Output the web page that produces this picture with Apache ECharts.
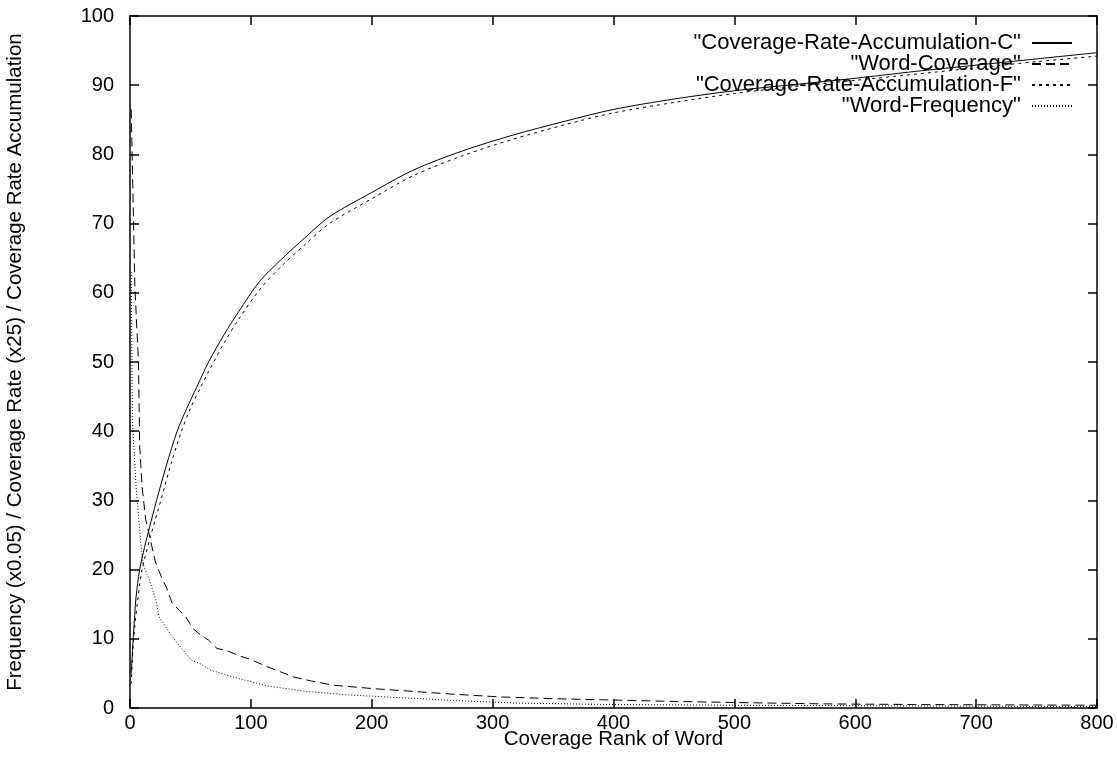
<!DOCTYPE html>
<html>
<head>
<meta charset="utf-8">
<script src="https://cdn.jsdelivr.net/npm/echarts@6/dist/echarts.min.js"></script>
<style>
  html, body { margin: 0; padding: 0; background: #fff; }
  #chart { width: 1117px; height: 762px; }
</style>
</head>
<body>
<div id="chart"></div>
<script>
// 数据：从原图读出
var rankAccC = [1, 3, 5, 8, 12, 16, 22, 30, 39, 47, 55, 65, 78, 90, 107, 125, 145, 165, 200, 234, 275, 317, 360, 400, 450, 500, 550, 600, 650, 700, 750, 800];
var accC = [5, 11, 16, 20, 23.2, 26, 30, 35, 40, 43.3, 46.3, 50, 54, 57.3, 61.6, 64.8, 68, 71, 74.5, 77.7, 80.5, 82.8, 84.8, 86.5, 88, 89.2, 90.1, 91, 92, 92.9, 93.8, 94.7];

var rankAccF = [1, 3, 6, 10, 17, 26, 34, 42, 50, 58, 65, 78, 90, 107, 125, 145, 165, 200, 234, 275, 317, 360, 400, 450, 500, 550, 600, 650, 700, 750, 800];
var accF = [3.5, 10, 15, 20, 24.8, 30.3, 35.3, 39.7, 43.3, 46.2, 48.6, 52.8, 56.2, 60.4, 63.8, 67, 70, 73.6, 76.9, 79.8, 82.2, 84.3, 86, 87.5, 88.8, 89.8, 90.7, 91.6, 92.5, 93.4, 94.2];

var rankCov = [1, 4, 7, 8, 10, 13, 16, 21, 27, 30, 35, 41, 46, 52, 58, 65, 72, 80, 91, 100, 113, 125, 135, 150, 168, 201, 234, 267, 306, 350, 400, 450, 499, 571, 650, 720, 800];
var wordCov = [86.5, 61, 50, 38, 32, 27.2, 25, 21.1, 18.5, 17.5, 15.1, 14.1, 13.2, 11.5, 10.6, 9.8, 8.6, 8.3, 7.5, 7, 6, 5.2, 4.5, 3.9, 3.3, 2.8, 2.4, 2, 1.6, 1.35, 1.15, 0.95, 0.8, 0.6, 0.5, 0.45, 0.4];

var rankFreq = [1, 2, 5, 8, 10.5, 16, 21.5, 24, 35, 46, 51, 58, 66, 85, 113, 146, 179, 223, 278, 322, 400, 499, 571, 650, 800];
var wordFreq = [63, 41.6, 32, 25.7, 20.9, 18.5, 15.6, 13.2, 10.3, 7.9, 6.9, 6.4, 5.5, 4.5, 3.2, 2.4, 1.9, 1.5, 1.0, 0.7, 0.5, 0.4, 0.35, 0.3, 0.2];

var names = ['"Coverage-Rate-Accumulation-C"', '"Word-Coverage"', '"Coverage-Rate-Accumulation-F"', '"Word-Frequency"'];
var xTicks = [0, 800, 100];
var yTicks = [0, 100, 10];

function pairs(xs, ys) {
    var out = [];
    for (var i = 0; i < xs.length; i++) out.push([xs[i], ys[i]]);
    return out;
}

var font = "'Liberation Sans', Arial, sans-serif";
var axisLine = { onZero: false, lineStyle: { color: '#000', width: 1.5 } };
var tick = { inside: true, length: 9, lineStyle: { color: '#000', width: 1.5 } };

function legendRow(name, top) {
    return {
        data: [name],
        right: 44,
        top: top,
        padding: 0,
        align: 'right',
        itemWidth: 40,
        itemHeight: 14,
        itemStyle: { opacity: 0 },
        formatter: function (n) { return n + ' '; },
        textStyle: { fontSize: 22, color: '#000', fontFamily: font },
        selectedMode: false
    };
}

var myChart = echarts.init(document.getElementById('chart'));

var option = {
    animation: false,
    backgroundColor: '#fff',
    grid: { left: 130, right: 20, top: 16, bottom: 54, outerBoundsMode: 'none' },
    legend: [
        legendRow(names[0], 32),
        legendRow(names[1], 53),
        legendRow(names[2], 74),
        legendRow(names[3], 95)
    ],
    xAxis: [{
        type: 'value',
        min: xTicks[0], max: xTicks[1], interval: xTicks[2],
        name: 'Coverage Rank of Word',
        nameLocation: 'middle',
        nameGap: 21,
        nameMoveOverlap: false,
        nameTextStyle: { fontSize: 20.5, color: '#000', fontFamily: font },
        axisLine: axisLine,
        axisTick: tick,
        splitLine: { show: false },
        axisLabel: { fontSize: 20, color: '#000', fontFamily: font, margin: 5 }
    }, {
        type: 'value',
        position: 'top',
        min: xTicks[0], max: xTicks[1], interval: xTicks[2],
        axisLine: axisLine,
        axisTick: tick,
        splitLine: { show: false },
        axisLabel: { show: false }
    }],
    yAxis: [{
        type: 'value',
        min: yTicks[0], max: yTicks[1], interval: yTicks[2],
        name: 'Frequency (x0.05) / Coverage Rate (x25) / Coverage Rate Accumulation',
        nameLocation: 'middle',
        nameGap: 104,
        nameMoveOverlap: false,
        nameTextStyle: { fontSize: 20.5, color: '#000', fontFamily: font },
        axisLine: axisLine,
        axisTick: tick,
        splitLine: { show: false },
        axisLabel: { fontSize: 20, color: '#000', fontFamily: font, margin: 16 }
    }, {
        type: 'value',
        position: 'right',
        min: yTicks[0], max: yTicks[1], interval: yTicks[2],
        axisLine: axisLine,
        axisTick: tick,
        splitLine: { show: false },
        axisLabel: { show: false }
    }],
    series: [{
        name: names[0],
        type: 'line',
        symbol: 'none',
        smooth: 0.3,
        lineStyle: { color: '#000', width: 1, type: 'solid' },
        itemStyle: { color: '#000' },
        data: pairs(rankAccC, accC)
    }, {
        name: names[1],
        type: 'line',
        symbol: 'none',
        lineStyle: { color: '#000', width: 1, type: [9, 5] },
        itemStyle: { color: '#000' },
        data: pairs(rankCov, wordCov)
    }, {
        name: names[2],
        type: 'line',
        symbol: 'none',
        smooth: 0.3,
        lineStyle: { color: '#000', width: 1, type: [3, 4] },
        itemStyle: { color: '#000' },
        data: pairs(rankAccF, accF)
    }, {
        name: names[3],
        type: 'line',
        symbol: 'none',
        lineStyle: { color: '#000', width: 1, type: [1, 2] },
        itemStyle: { color: '#000' },
        data: pairs(rankFreq, wordFreq)
    }]
};

myChart.setOption(option);
</script>
</body>
</html>
